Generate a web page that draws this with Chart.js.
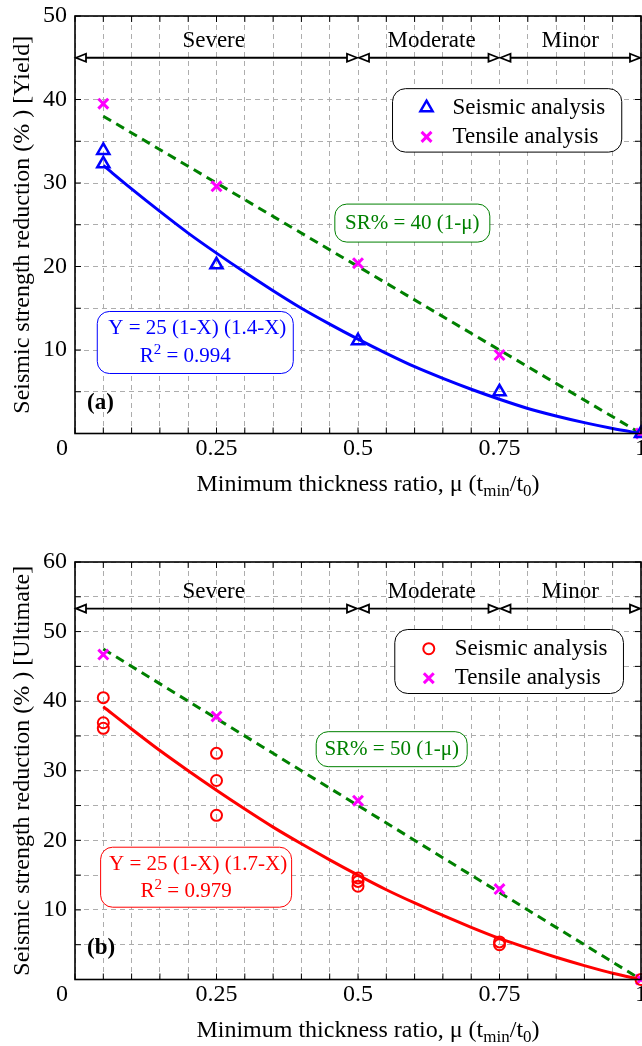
<!DOCTYPE html>
<html>
<head>
<meta charset="utf-8">
<script src="https://cdn.jsdelivr.net/npm/chart.js@4.4.1/dist/chart.umd.min.js"></script>
<style>
  html, body { margin: 0; padding: 0; background: #fff; overflow: hidden; }
  canvas { display: block; }
</style>
</head>
<body>
<canvas id="chartA" width="642" height="523"></canvas>
<canvas id="chartB" width="642" height="523"></canvas>
<script>
// ---- data ----
const tensileMu = [0.05, 0.25, 0.5, 0.75, 1];
const trendMu = [0.05, 1];
const fitMu = [0.05, 0.10, 0.15, 0.20, 0.25, 0.30, 0.35, 0.40, 0.45, 0.50,
               0.55, 0.60, 0.65, 0.70, 0.75, 0.80, 0.85, 0.90, 0.95, 1.00];

// (a) yield
const seisMuA = [0.05, 0.05, 0.25, 0.5, 0.75, 1];
const seisSrA = [33.9, 32.3, 20.2, 11.1, 5.0, 0];
const tensSrA = [39.5, 29.6, 20.4, 9.4, 0];
const fitSrA = [32.1, 29.3, 26.6, 24.0, 21.6, 19.3, 17.1, 15.0, 13.1, 11.3,
                9.6, 8.0, 6.6, 5.3, 4.1, 3.0, 2.1, 1.3, 0.6, 0];
const trendSrA = [38, 0];

// (b) ultimate
const seisMuB = [0.05, 0.05, 0.05, 0.25, 0.25, 0.25, 0.5, 0.5, 0.5, 0.75, 0.75, 1];
const seisSrB = [40.5, 36.9, 36.1, 32.5, 28.6, 23.6, 14.6, 14.1, 13.4, 5.4, 5.0, 0];
const tensSrB = [46.7, 37.8, 25.7, 13.0, 0];
const fitSrB = [39.2, 36.0, 32.9, 30.0, 27.2, 24.5, 21.9, 19.5, 17.2, 15.0,
                12.9, 11.0, 9.2, 7.5, 5.9, 4.5, 3.2, 2.0, 0.9, 0];
const trendSrB = [47.5, 0];

const zoneBounds = [0, 0.5, 0.75, 1];
const zoneNames = ['Severe', 'Moderate', 'Minor'];
const zoneLabelMu = [0.245, 0.63, 0.875];

const SERIF = "'Liberation Serif', 'Times New Roman', serif";
Chart.defaults.font.family = SERIF;
Chart.defaults.color = '#000';

function pairs(xs, ys) { return xs.map((v, i) => ({ x: v, y: ys[i] })); }

// labels only at quarters, the origin "0" is drawn separately
function xLabel(v) {
  return (v !== 0 && Math.abs(v * 4 - Math.round(v * 4)) < 1e-6) ? String(v) : '';
}

function roundRect(ctx, x, y, w, h, r) {
  ctx.beginPath();
  ctx.moveTo(x + r, y);
  ctx.lineTo(x + w - r, y);
  ctx.arcTo(x + w, y, x + w, y + r, r);
  ctx.lineTo(x + w, y + h - r);
  ctx.arcTo(x + w, y + h, x + w - r, y + h, r);
  ctx.lineTo(x + r, y + h);
  ctx.arcTo(x, y + h, x, y + h - r, r);
  ctx.lineTo(x, y + r);
  ctx.arcTo(x, y, x + r, y, r);
  ctx.closePath();
}

// text with sub/superscript parts: [text, 0 normal | 1 sub | 2 sup]
function richText(ctx, parts, x, y, size, align) {
  const norm = size + 'px ' + SERIF, small = Math.round(size * 0.7) + 'px ' + SERIF;
  let total = 0;
  parts.forEach(p => { ctx.font = p[1] ? small : norm; total += ctx.measureText(p[0]).width; });
  let cx = align === 'center' ? x - total / 2 : x;
  ctx.textAlign = 'left';
  ctx.textBaseline = 'middle';
  parts.forEach(p => {
    ctx.font = p[1] ? small : norm;
    const dy = p[1] === 1 ? size * 0.3 : p[1] === 2 ? -size * 0.3 : 0;
    ctx.fillText(p[0], cx, y + dy);
    cx += ctx.measureText(p[0]).width;
  });
}

function marker(ctx, style, x, y, r, color, lw) {
  ctx.save();
  ctx.strokeStyle = color; ctx.lineWidth = lw;
  ctx.beginPath();
  if (style === 'triangle') {
    for (let k = 0; k < 3; k++) {
      const ang = k * 2 * Math.PI / 3;
      const px = x + Math.sin(ang) * r, py = y - Math.cos(ang) * r;
      if (k === 0) ctx.moveTo(px, py); else ctx.lineTo(px, py);
    }
    ctx.closePath();
  } else if (style === 'circle') {
    ctx.arc(x, y, r, 0, Math.PI * 2);
  } else {
    const d = r * Math.SQRT1_2;
    ctx.moveTo(x - d, y - d); ctx.lineTo(x + d, y + d);
    ctx.moveTo(x + d, y - d); ctx.lineTo(x - d, y + d);
  }
  ctx.stroke();
  ctx.restore();
}

function arrowHead(ctx, tipX, y, dir) {
  ctx.beginPath();
  ctx.moveTo(tipX, y);
  ctx.lineTo(tipX + dir * 10, y - 4);
  ctx.lineTo(tipX + dir * 10, y + 4);
  ctx.closePath();
  ctx.fillStyle = '#fff';
  ctx.fill();
  ctx.stroke();
}

function decor(p) {
  return {
    id: 'decor',
    afterDraw(chart) {
      const { ctx, chartArea: a } = chart;
      const x = chart.scales.x, y = chart.scales.y;
      ctx.save();

      // inward ticks
      ctx.strokeStyle = '#000';
      ctx.lineWidth = 1;
      ctx.beginPath();
      x.ticks.forEach(t => {
        const px = x.getPixelForValue(t.value);
        ctx.moveTo(px, a.bottom); ctx.lineTo(px, a.bottom - 6);
        ctx.moveTo(px, a.top); ctx.lineTo(px, a.top + 6);
      });
      y.ticks.forEach(t => {
        const py = y.getPixelForValue(t.value);
        ctx.moveTo(a.left, py); ctx.lineTo(a.left + 6, py);
        ctx.moveTo(a.right, py); ctx.lineTo(a.right - 6, py);
      });
      ctx.stroke();

      // frame
      ctx.lineWidth = 1.6;
      ctx.strokeRect(a.left, a.top, a.right - a.left, a.bottom - a.top);

      // x tick labels, from the scale's ticks
      ctx.fillStyle = '#000';
      ctx.font = '24px ' + SERIF;
      ctx.textAlign = 'center';
      ctx.textBaseline = 'middle';
      x.ticks.forEach(t => {
        const s = xLabel(t.value);
        if (s) ctx.fillText(s, x.getPixelForValue(t.value), a.bottom + 15);
      });
      ctx.textAlign = 'right';
      ctx.fillText('0', a.left - 7, a.bottom + 15);

      // zone arrows
      const zy = y.getPixelForValue(p.zoneY);
      ctx.lineWidth = 1.8;
      for (let i = 0; i < zoneNames.length; i++) {
        const x1 = x.getPixelForValue(zoneBounds[i]);
        const x2 = x.getPixelForValue(zoneBounds[i + 1]);
        ctx.strokeStyle = '#000';
        ctx.beginPath();
        ctx.moveTo(x1 + 8, zy); ctx.lineTo(x2 - 8, zy);
        ctx.stroke();
        arrowHead(ctx, x1 + 1, zy, 1);
        arrowHead(ctx, x2 - 1, zy, -1);
        ctx.fillStyle = '#000';
        ctx.font = '23px ' + SERIF;
        ctx.textAlign = 'center';
        ctx.textBaseline = 'alphabetic';
        ctx.fillText(zoneNames[i], x.getPixelForValue(zoneLabelMu[i]), zy - 11);
      }

      // equation boxes
      p.boxes.forEach(b => {
        const cx = x.getPixelForValue(b.mu), cy = y.getPixelForValue(b.sr);
        roundRect(ctx, cx - b.w / 2, cy - b.h / 2, b.w, b.h, 12);
        ctx.fillStyle = '#fff';
        ctx.fill();
        ctx.strokeStyle = b.color;
        ctx.lineWidth = 1;
        ctx.stroke();
        ctx.fillStyle = b.color;
        b.lines.forEach(l => richText(ctx, l.parts, cx + l.dx, cy + l.dy, 21, 'center'));
      });

      // legend
      const L = p.legend;
      const lx0 = x.getPixelForValue(L.mu0), lx1 = x.getPixelForValue(L.mu1);
      const ly0 = y.getPixelForValue(L.sr0), ly1 = y.getPixelForValue(L.sr1);
      roundRect(ctx, lx0, ly0, lx1 - lx0, ly1 - ly0, 13);
      ctx.fillStyle = '#fff';
      ctx.fill();
      ctx.strokeStyle = '#000';
      ctx.lineWidth = 1;
      ctx.stroke();
      L.rows.forEach((r, i) => {
        const ry = ly0 + (ly1 - ly0) * (i === 0 ? 0.3 : 0.76);
        marker(ctx, r.style, lx0 + 34, ry, r.r, r.color, r.lw);
        ctx.fillStyle = '#000';
        ctx.font = '23px ' + SERIF;
        ctx.textAlign = 'left';
        ctx.textBaseline = 'middle';
        ctx.fillText(r.text, lx0 + 60, ry);
      });

      // panel tag
      ctx.fillStyle = '#000';
      ctx.font = 'bold 23px ' + SERIF;
      ctx.textAlign = 'center';
      ctx.textBaseline = 'middle';
      ctx.fillText(p.tag, x.getPixelForValue(p.tagMu), y.getPixelForValue(p.tagSr));

      // x axis title with subscripts
      richText(ctx, [['Minimum thickness ratio, \u03bc (t', 0], ['min', 1], ['/t', 0], ['0', 1], [')', 0]],
               (a.left + a.right) / 2 + 10, a.bottom + 51, 24, 'center');

      ctx.restore();
    }
  };
}

function makePanel(id, p) {
  const tickFont = { family: SERIF, size: 24 };
  return new Chart(document.getElementById(id), {
    type: 'scatter',
    data: {
      datasets: [
        { label: 'Seismic analysis', data: pairs(p.seisMu, p.seisSr), showLine: false, clip: false,
          pointStyle: p.seisStyle, pointRadius: p.seisR, pointBorderColor: p.color,
          pointBackgroundColor: 'rgba(0,0,0,0)', pointBorderWidth: p.seisLw },
        { label: 'Tensile analysis', data: pairs(tensileMu, p.tensSr), showLine: false, clip: false,
          pointStyle: 'crossRot', pointRadius: 7, pointBorderColor: '#ff00ff', pointBorderWidth: 3 },
        { label: 'fit', data: pairs(fitMu, p.fitSr), showLine: true, fill: false, clip: false,
          borderColor: p.color, borderWidth: 3, pointRadius: 0, cubicInterpolationMode: 'monotone' },
        { label: 'trend', data: pairs(trendMu, p.trendSr), showLine: true, fill: false, clip: false,
          borderColor: '#008000', borderWidth: 3, borderDash: [9, 6], pointRadius: 0 }
      ]
    },
    options: {
      responsive: false,
      animation: false,
      events: [],
      layout: { autoPadding: false, padding: { top: p.top, right: 1, left: 0, bottom: 0 } },
      plugins: { legend: { display: false }, tooltip: { enabled: false } },
      scales: {
        x: {
          type: 'linear', min: 0, max: 1,
          ticks: { stepSize: 0.05, autoSkip: false, display: false },
          grid: { color: '#adadad', lineWidth: 1, drawTicks: false },
          border: { display: false, dash: [5, 4] },
          afterFit: s => { s.height = p.xHeight; s.paddingLeft = 0; s.paddingRight = 0; }
        },
        y: {
          type: 'linear', min: 0, max: p.yMax,
          ticks: {
            stepSize: 5, autoSkip: false, padding: 8, font: tickFont, color: '#000',
            callback: v => (v !== 0 && v % 10 === 0) ? String(v) : ''
          },
          grid: { color: '#adadad', lineWidth: 1, drawTicks: false },
          border: { display: false, dash: [5, 4] },
          title: { display: true, text: p.yTitle, color: '#000', font: { family: SERIF, size: 24 },
                   padding: { top: 8, bottom: 0 } },
          afterFit: s => { s.width = 75; s.paddingTop = 0; s.paddingBottom = 0; }
        }
      }
    },
    plugins: [decor(p)]
  });
}

makePanel('chartA', {
  top: 16, xHeight: 89.5, yMax: 50,
  yTitle: 'Seismic strength reduction (% ) [Yield]',
  color: '#0000ff', seisStyle: 'triangle', seisR: 7, seisLw: 2.5,
  seisMu: seisMuA, seisSr: seisSrA, tensSr: tensSrA, fitSr: fitSrA, trendSr: trendSrA,
  zoneY: 45,
  tag: '(a)', tagMu: 0.045, tagSr: 3.6,
  boxes: [
    { mu: 0.596, sr: 25.2, w: 155, h: 38, color: '#008000',
      lines: [{ parts: [['SR% = 40 (1-\u03bc)', 0]], dx: 0, dy: 0 }] },
    { mu: 0.2125, sr: 10.9, w: 196, h: 62, color: '#0000ff',
      lines: [{ parts: [['Y = 25 (1-X) (1.4-X)', 0]], dx: 2, dy: -14 },
              { parts: [['R', 0], ['2', 2], [' = 0.994', 0]], dx: -10, dy: 14 }] }
  ],
  legend: { mu0: 0.561, mu1: 0.966, sr0: 41.3, sr1: 33.7,
    rows: [{ style: 'triangle', r: 7, lw: 2.5, color: '#0000ff', text: 'Seismic analysis' },
           { style: 'cross', r: 7, lw: 3, color: '#ff00ff', text: 'Tensile analysis' }] }
});

makePanel('chartB', {
  top: 39, xHeight: 66.5, yMax: 60,
  yTitle: 'Seismic strength reduction (% ) [Ultimate]',
  color: '#ff0000', seisStyle: 'circle', seisR: 5.5, seisLw: 2,
  seisMu: seisMuB, seisSr: seisSrB, tensSr: tensSrB, fitSr: fitSrB, trendSr: trendSrB,
  zoneY: 53.3,
  tag: '(b)', tagMu: 0.046, tagSr: 4.5,
  boxes: [
    { mu: 0.5595, sr: 33.1, w: 151, h: 35, color: '#008000',
      lines: [{ parts: [['SR% = 50 (1-\u03bc)', 0]], dx: 0, dy: 0 }] },
    { mu: 0.214, sr: 14.7, w: 191, h: 60, color: '#ff0000',
      lines: [{ parts: [['Y = 25 (1-X) (1.7-X)', 0]], dx: 2, dy: -13 },
              { parts: [['R', 0], ['2', 2], [' = 0.979', 0]], dx: -10, dy: 14 }] }
  ],
  legend: { mu0: 0.565, mu1: 0.969, sr0: 50.3, sr1: 41.1,
    rows: [{ style: 'circle', r: 5.5, lw: 2, color: '#ff0000', text: 'Seismic analysis' },
           { style: 'cross', r: 7, lw: 3, color: '#ff00ff', text: 'Tensile analysis' }] }
});
</script>
</body>
</html>
